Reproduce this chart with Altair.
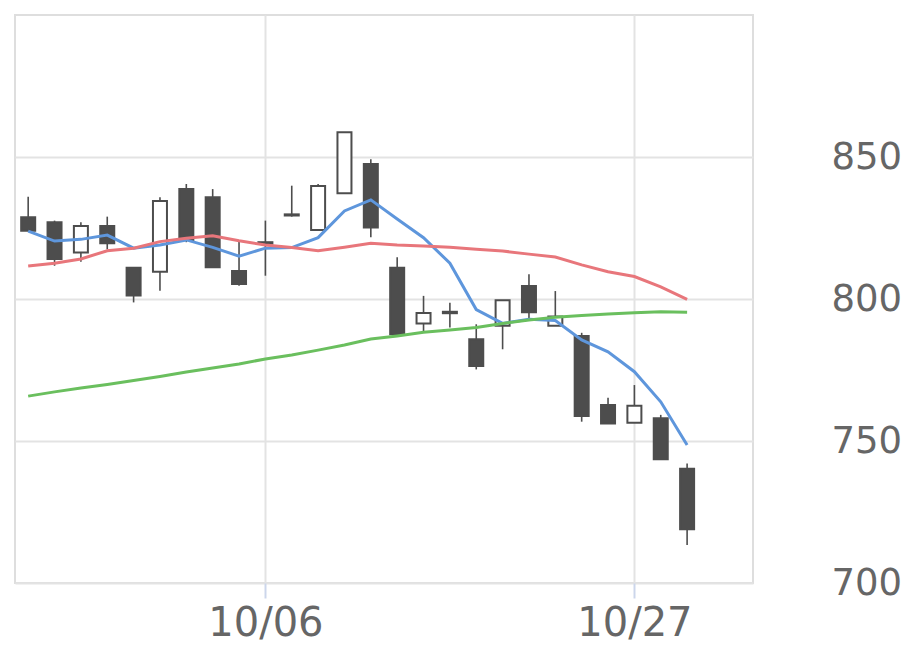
import altair as alt
import pandas as pd
import json

dates = ["09/22", "09/24", "09/25", "09/26", "09/29", "09/30", "10/01", "10/02", "10/03",
         "10/06", "10/07", "10/08", "10/09", "10/10", "10/14", "10/15", "10/16", "10/17",
         "10/20", "10/21", "10/22", "10/23", "10/24", "10/27", "10/28", "10/29"]
opens = [828.8, 827.0, 816.4, 825.7, 811.0, 809.6, 838.7, 835.8, 809.9, 820.0, 829.8, 824.3, 837.2,
         847.5, 811.0, 791.4, 795.5, 785.8, 790.6, 804.6, 790.6, 787.0, 762.7, 756.4, 758.0, 740.2]
highs = [836.0, 827.6, 827.0, 829.0, 811.0, 835.8, 840.5, 838.7, 820.2, 827.6, 839.9, 840.5, 858.7,
         849.2, 814.7, 801.1, 798.7, 791.1, 799.6, 808.7, 802.8, 788.1, 765.2, 769.7, 759.2, 742.1]
lows = [824.0, 811.7, 813.1, 817.5, 798.8, 802.9, 820.0, 811.0, 804.7, 808.2, 829.0, 824.3, 837.2,
        821.7, 787.0, 788.3, 790.0, 775.2, 782.3, 792.8, 790.6, 756.8, 756.2, 756.4, 743.6, 713.4]
closes = [824.0, 814.1, 825.7, 819.6, 801.2, 834.5, 820.8, 811.2, 805.3, 819.5, 829.4, 839.8, 858.7,
          825.2, 787.6, 795.1, 795.0, 776.4, 799.6, 795.3, 793.8, 758.8, 756.2, 762.4, 743.6, 718.9]
ma5 = [823.9, 820.4, 821.0, 822.5, 817.9, 819.0, 820.8, 818.2, 815.1, 817.9, 818.1, 821.6, 831.0,
       834.9, 828.2, 821.6, 812.6, 796.3, 791.4, 792.9, 792.4, 785.6, 781.4, 774.4, 763.8, 748.6]
ma25 = [811.6, 812.6, 814.1, 817.0, 817.9, 820.2, 821.4, 822.3, 820.5, 819.0, 818.1, 817.0, 818.2,
        819.6, 819.0, 818.7, 818.2, 817.5, 816.9, 815.8, 814.8, 812.0, 809.6, 807.9, 804.3, 799.9]
ma75 = [765.8, 767.3, 768.7, 769.9, 771.3, 772.7, 774.3, 775.7, 777.1, 778.9, 780.3, 782.0, 783.8,
        785.9, 787.0, 788.3, 789.1, 790.0, 791.4, 792.6, 793.6, 794.2, 794.7, 795.2, 795.5, 795.3]

tick_idx = [9, 23]
y_ticks = [700, 750, 800, 850]

n = len(dates)
df = pd.DataFrame({
    "i": list(range(n)),
    "date": dates,
    "open": opens, "high": highs, "low": lows, "close": closes,
})
df["up"] = df["close"] >= df["open"]
df["bot"] = df[["open", "close"]].min(axis=1)
df["top"] = df[["open", "close"]].max(axis=1)

ma_df = pd.DataFrame({
    "i": list(range(n)) * 3,
    "v": ma5 + ma25 + ma75,
    "s": ["ma5"] * n + ["ma25"] * n + ["ma75"] * n,
})

label_expr = "{}[datum.value]".format(json.dumps(dates))

x_scale = alt.Scale(domain=[-0.5, 27.5], nice=False, zero=False, padding=0)
y_scale = alt.Scale(domain=[700, 900], nice=False, zero=False, padding=0)

x_axis = alt.Axis(values=tick_idx, labelExpr=label_expr, title=None, grid=True,
                  gridColor="#e3e3e3", gridWidth=2, domain=False,
                  tickColor="#ccd6eb", tickSize=15, tickWidth=2,
                  labelFontSize=40, labelColor="#666666", labelFont="DejaVu Sans",
                  labelPadding=5)
y_axis = alt.Axis(values=y_ticks, orient="right", title=None, grid=True,
                  gridColor="#e3e3e3", gridWidth=2, domain=False, ticks=False, tickSize=0,
                  labelFontSize=37, labelColor="#666666", labelFont="DejaVu Sans",
                  labelPadding=78, labelAlign="left", labelBaseline="middle")

base = alt.Chart(df)

wick = base.mark_rule(color="#4d4d4d", strokeWidth=1.6).encode(
    x=alt.X("i:Q", scale=x_scale, axis=x_axis),
    y=alt.Y("low:Q", scale=y_scale, axis=y_axis),
    y2="high:Q",
)

body = base.mark_bar(size=14, stroke="#4d4d4d", strokeWidth=2).encode(
    x=alt.X("i:Q", scale=x_scale),
    y=alt.Y("bot:Q", scale=y_scale),
    y2="top:Q",
    fill=alt.condition("datum.up", alt.value("#ffffff"), alt.value("#4d4d4d")),
)

lines = alt.Chart(ma_df).mark_line(strokeWidth=3).encode(
    x=alt.X("i:Q", scale=x_scale),
    y=alt.Y("v:Q", scale=y_scale),
    color=alt.Color("s:N", scale=alt.Scale(domain=["ma5", "ma25", "ma75"],
                                           range=["#5e96dc", "#e8767b", "#6abf5e"]),
                    legend=None),
    order=alt.Order("i:Q"),
)

chart = alt.layer(wick, body, lines).properties(
    width=738, height=568,
    padding={"left": 7, "top": 7, "right": 0, "bottom": 0},
).configure_view(stroke="#dedede", strokeWidth=2)

chart.save("out.html", embed_options={"renderer": "svg", "actions": False})
